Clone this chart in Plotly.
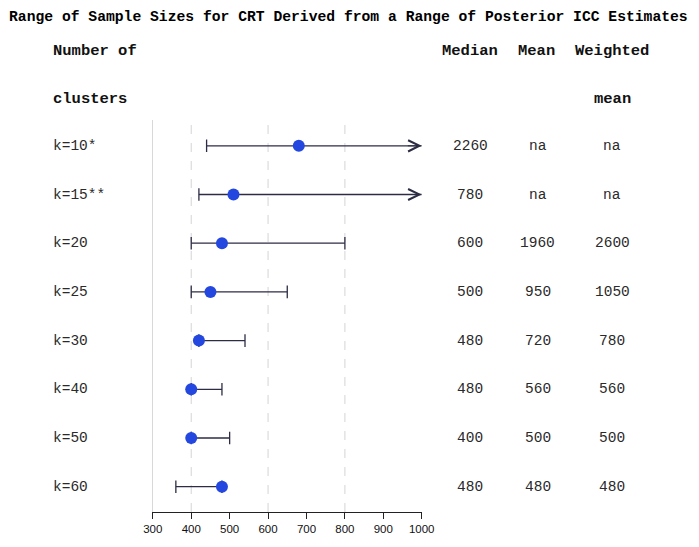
import plotly.graph_objects as go

# ── Data ──────────────────────────────────────────────────────────────────────
clusters = ["k=10*", "k=15**", "k=20", "k=25", "k=30", "k=40", "k=50", "k=60"]
lower    = [440, 420, 400, 400, 420, 400, 400, 360]
point    = [680, 510, 480, 450, 420, 400, 400, 480]
upper    = [None, None, 800, 650, 540, 480, 500, 480]   # None = runs off the axis
median   = ["2260", "780", "600", "500", "480", "480", "400", "480"]
mean     = ["na", "na", "1960", "950", "720", "560", "500", "480"]
weighted = ["na", "na", "2600", "1050", "780", "560", "500", "480"]

X_MIN, X_MAX = 300, 1000
x_ticks  = [300, 400, 500, 600, 700, 800, 900, 1000]
grid_at  = [400, 600, 800]

# the page body has an 8px margin: size the figure so the page is exactly
# the 699x547 window (no scrollbars) and shift all positions by that margin
OFF = 8
W, H = 699 - 2 * OFF, 547 - 2 * OFF
MONO = "Liberation Mono, Courier New, monospace"
LINE_C = "#2c2c44"
DOT_C  = "#2447e0"


def px(x):
    return (x - OFF) / W


def py(y):
    return 1 - (y - OFF) / H


# ── Whiskers ──────────────────────────────────────────────────────────────────
wx, wy = [], []
for c, lo, up in zip(clusters, lower, upper):
    wx += [lo, X_MAX if up is None else up, None]
    wy += [c, c, None]

cap_x = list(lower) + [u for u in upper if u is not None]
cap_y = list(clusters) + [c for c, u in zip(clusters, upper) if u is not None]

fig = go.Figure()
fig.add_trace(go.Scatter(x=wx, y=wy, mode="lines",
                         line=dict(color=LINE_C, width=1.3), hoverinfo="skip"))
fig.add_trace(go.Scatter(x=cap_x, y=cap_y, mode="markers",
                         marker=dict(symbol="line-ns", size=9,
                                     line=dict(color=LINE_C, width=1.3)),
                         hoverinfo="skip"))
fig.add_trace(go.Scatter(x=point, y=clusters, mode="markers",
                         marker=dict(color=DOT_C, size=12, line=dict(width=0))))

# open-ended arrows
for c, up in zip(clusters, upper):
    if up is None:
        fig.add_annotation(x=X_MAX, y=c, ax=X_MAX - 40, ay=c,
                           xref="x", yref="y", axref="x", ayref="y",
                           text="", showarrow=True, arrowhead=5,
                           arrowsize=2.2, arrowwidth=1, arrowcolor=LINE_C)

# dashed grid
for g in grid_at:
    fig.add_shape(type="line", xref="x", yref="paper", x0=g, x1=g,
                  y0=py(512), y1=py(120),
                  line=dict(color="#d4d4d4", width=1, dash="dash"), layer="below")

# ── Table text ────────────────────────────────────────────────────────────────
txt = dict(family=MONO, size=14.5, color="#2a2a2a")
for c, md, mn, wm in zip(clusters, median, mean, weighted):
    fig.add_annotation(x=px(42), y=c, xref="paper", yref="y", text=c,
                       showarrow=False, xanchor="left", font=txt)
    for xv, s in [(476, md), (546, mn), (623, wm)]:
        fig.add_annotation(x=px(xv), y=c, xref="paper", yref="y", text=s,
                           showarrow=False, xanchor="center", font=txt)

hdr = dict(family=MONO, size=15.5, color="#111")
headers = [(42, 51, "Number of", "left"), (42, 99, "clusters", "left"),
           (476, 51, "Median", "center"), (545, 51, "Mean", "center"),
           (623, 51, "Weighted", "center"), (623, 99, "mean", "center")]
for xp, yp, s, anc in headers:
    fig.add_annotation(x=px(xp), y=py(yp), xref="paper", yref="paper",
                       text=f"<b>{s}</b>", showarrow=False, xanchor=anc,
                       yanchor="middle", font=hdr)

# title sits right at the top edge of the figure
fig.add_annotation(x=px(349.5), y=1, xref="paper", yref="paper",
                   text="<b>Range of Sample Sizes for CRT Derived from a Range of Posterior ICC Estimates</b>",
                   showarrow=False, xanchor="center", yanchor="top", borderpad=0,
                   font=dict(family=MONO, size=14.7, color="#000"))

fig.update_layout(
    width=W, height=H, showlegend=False,
    margin=dict(l=0, r=0, t=0, b=0),
    plot_bgcolor="white", paper_bgcolor="white",
    xaxis=dict(domain=[px(147.5), px(425.8)], range=[X_MIN, X_MAX],
               tickvals=x_ticks, showgrid=False, zeroline=False,
               showline=True, linecolor="#222", linewidth=1.3,
               ticks="outside", ticklen=6, tickwidth=1.3, tickcolor="#222",
               tickfont=dict(family="Liberation Sans, Arial", size=11.5, color="#111")),
    yaxis=dict(domain=[py(512), py(120)], type="category",
               range=[7.52, -0.53], showgrid=False, zeroline=False,
               showticklabels=False, showline=True, linecolor="#d8d8d8",
               linewidth=1),
)

fig.write_html("out.html")
